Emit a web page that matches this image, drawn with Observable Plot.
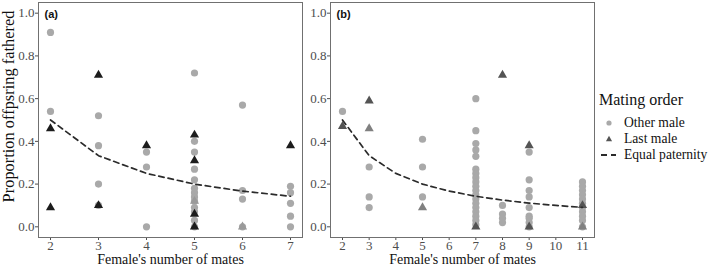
<!DOCTYPE html>
<html>
<head>
<meta charset="utf-8">
<script src="https://cdn.jsdelivr.net/npm/d3@7"></script>
<script src="https://cdn.jsdelivr.net/npm/@observablehq/plot@0.6"></script>
<style>
  body { margin: 0; background: #fff; }
  #wrap { position: relative; width: 709px; height: 267px; overflow: hidden; font-family: "Liberation Serif", serif; }
  #wrap > .panel { position: absolute; top: 0; }
  #wrap svg text { font-family: "Liberation Serif", serif; }
  #wrap svg g[font-weight="bold"] text { font-family: "Liberation Sans", sans-serif; }
  #legend { position: absolute; left: 599px; top: 90px; color: #111; white-space: nowrap; }
  #legend .title { font-size: 16px; line-height: 20px; margin-bottom: 5px; }
  #legend .item { display: flex; align-items: center; height: 16px; font-size: 13.6px; white-space: nowrap; }
  #legend svg { width: 22px; height: 14px; margin-right: 3px; flex: none; }
</style>
</head>
<body>
<div id="wrap">
  <div class="panel" id="pa" style="left:0px"></div>
  <div class="panel" id="pb" style="left:303px"></div>
  <div id="legend"></div>
</div>
<script>
// ---------- data ----------
const yTicks = [0, 0.2, 0.4, 0.6, 0.8, 1.0];
const xTicksA = [2, 3, 4, 5, 6, 7];
const xTicksB = [2, 3, 4, 5, 6, 7, 8, 9, 10, 11];

// Panel (a): other males [mates, proportion]
const otherA = [
  [2, 0.91], [2, 0.54],
  [3, 0.52], [3, 0.38], [3, 0.20], [3, 0.10],
  [4, 0.35], [4, 0.28], [4, 0.00],
  [5, 0.72], [5, 0.40], [5, 0.35], [5, 0.27], [5, 0.22], [5, 0.18], [5, 0.16], [5, 0.14],
  [5, 0.12], [5, 0.09], [5, 0.07], [5, 0.03], [5, 0.00],
  [6, 0.57], [6, 0.17], [6, 0.13], [6, 0.00],
  [7, 0.19], [7, 0.16], [7, 0.11], [7, 0.05], [7, 0.00]
];
// Panel (a): last males
const lastA = [
  [2, 0.46], [2, 0.09], [3, 0.71], [3, 0.10], [4, 0.38],
  [5, 0.43], [5, 0.31], [5, 0.06], [5, 0.00], [7, 0.38]
];
const lastA_faint = [[5, 0.12], [6, 0.00]];
// Panel (a): equal paternity expectation
const equalA = [[2, 0.5], [3, 0.333], [4, 0.25], [5, 0.2], [6, 0.167], [7, 0.143]];

// Panel (b): other males
const otherB = [
  [2, 0.54],
  [3, 0.28], [3, 0.14], [3, 0.09],
  [5, 0.41], [5, 0.28], [5, 0.14],
  [7, 0.60], [7, 0.45], [7, 0.39], [7, 0.36], [7, 0.33], [7, 0.27], [7, 0.25], [7, 0.23],
  [7, 0.21], [7, 0.19], [7, 0.17], [7, 0.15], [7, 0.13], [7, 0.11], [7, 0.09], [7, 0.07],
  [7, 0.05], [7, 0.03], [7, 0.01],
  [8, 0.10], [8, 0.06], [8, 0.04], [8, 0.02],
  [9, 0.35], [9, 0.22], [9, 0.17], [9, 0.14], [9, 0.09], [9, 0.05], [9, 0.04], [9, 0.02], [9, 0.00],
  [11, 0.21], [11, 0.19], [11, 0.17], [11, 0.15], [11, 0.13], [11, 0.11], [11, 0.09],
  [11, 0.07], [11, 0.05], [11, 0.03], [11, 0.00]
];
const lastB = [[2, 0.47], [3, 0.59], [7, 0.00], [8, 0.71], [9, 0.38], [9, 0.00], [11, 0.10]];
const lastB_faint = [[3, 0.46], [5, 0.09], [11, 0.00]];
const equalB = [[2, 0.5], [3, 0.333], [4, 0.25], [5, 0.2], [6, 0.167], [7, 0.143],
                [8, 0.125], [9, 0.111], [10, 0.1], [11, 0.091]];

// ---------- drawing ----------
const serif = "Liberation Serif";
const fmt1 = d3.format(".1f");

function panel({label, xDomain, xTicks, other, last, lastColor, faint, faintColor, equal, width, marginLeft, marginRight, yTitle}) {
  const marks = [
    Plot.frame({stroke: "#707070", strokeWidth: 1}),
    Plot.dot(other, {x: d => d[0], y: d => d[1], r: 3.6, fill: "#a9a9a9", stroke: null}),
    Plot.dot(faint, {x: d => d[0], y: d => d[1], r: 3.4, symbol: "triangle", fill: faintColor, stroke: null}),
    Plot.dot(last, {x: d => d[0], y: d => d[1], r: 3.4, symbol: "triangle", fill: lastColor, stroke: null}),
    Plot.line(equal, {x: d => d[0], y: d => d[1], stroke: "#2b2b2b", strokeWidth: 1.7, strokeDasharray: "5.5,4"}),
    Plot.text([label], {text: d => d, frameAnchor: "top-left", dx: 6, dy: 12, fontFamily: "Liberation Sans", fontWeight: "bold", fontSize: 11, fill: "#111", textAnchor: "start", lineAnchor: "middle"}),
    Plot.text(["Female's number of mates"], {text: d => d, frameAnchor: "bottom", dy: 22, lineAnchor: "middle", textAnchor: "middle", fontFamily: serif, fontSize: 14, fill: "#111"})
  ];
  if (yTitle) {
    marks.push(Plot.text([yTitle], {text: d => d, frameAnchor: "left", dx: -30, dy: -13.5, rotate: -90, textAnchor: "middle", lineAnchor: "middle", fontFamily: serif, fontSize: 16.4, fill: "#111"}));
  }
  return Plot.plot({
    width, height: 267,
    marginLeft, marginRight, marginTop: 2, marginBottom: 30,
    style: {fontFamily: serif, fontSize: "13px", color: "#4d4d4d", background: "transparent"},
    x: {domain: xDomain, ticks: xTicks, tickFormat: d => String(d), tickSize: 3, tickPadding: 0, label: null},
    y: {domain: [-0.05, 1.05], ticks: yTicks, tickFormat: fmt1, tickSize: 3, tickPadding: 1, label: null},
    marks
  });
}

document.getElementById("pa").appendChild(panel({
  label: "(a)", xDomain: [1.75, 7.25], xTicks: xTicksA,
  other: otherA, last: lastA, lastColor: "#1c1c1c", faint: lastA_faint, faintColor: "#9a9a9a",
  equal: equalA, width: 305, marginLeft: 38, marginRight: 3,
  yTitle: "Proportion offpsring fathered"
}));

document.getElementById("pb").appendChild(panel({
  label: "(b)", xDomain: [1.55, 11.45], xTicks: xTicksB,
  other: otherB, last: lastB, lastColor: "#545454", faint: lastB_faint, faintColor: "#808080",
  equal: equalB, width: 297, marginLeft: 27, marginRight: 6
}));

// ---------- legend ----------
const legendItems = [
  {name: "Other male", kind: "circle"},
  {name: "Last male", kind: "triangle"},
  {name: "Equal paternity", kind: "dash"}
];
const legend = document.getElementById("legend");
const t = document.createElement("div");
t.className = "title"; t.textContent = "Mating order";
legend.appendChild(t);
for (const it of legendItems) {
  const row = document.createElement("div");
  row.className = "item";
  let sym;
  if (it.kind === "circle") sym = '<circle cx="10" cy="7" r="2.6" fill="#a9a9a9"/>';
  else if (it.kind === "triangle") sym = '<path d="M10,3.8 L13.1,9.2 L6.9,9.2 Z" fill="#545454"/>';
  else sym = '<line x1="2" x2="17" y1="7" y2="7" stroke="#2b2b2b" stroke-width="1.8" stroke-dasharray="6,4"/>';
  row.innerHTML = '<svg viewBox="0 0 22 14">' + sym + '</svg><span>' + it.name + '</span>';
  legend.appendChild(row);
}
</script>
</body>
</html>
